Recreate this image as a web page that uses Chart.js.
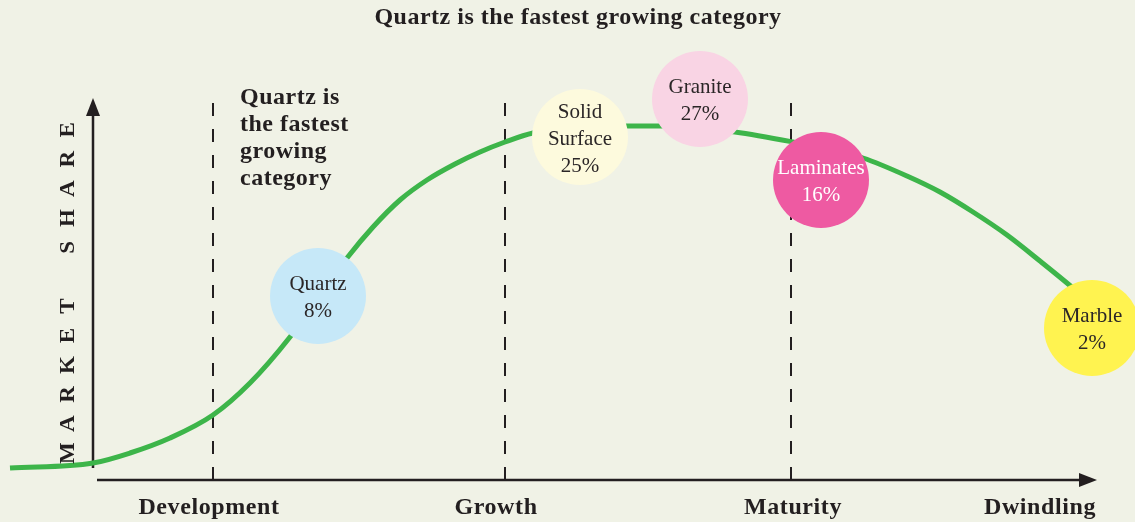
<!DOCTYPE html>
<html>
<head>
<meta charset="utf-8">
<script src="https://cdn.jsdelivr.net/npm/chart.js@4.4.1/dist/chart.umd.min.js"></script>
<style>
  html, body { margin: 0; padding: 0; background: #f0f2e6; }
  canvas { display: block; }
</style>
</head>
<body>
<canvas id="lifecycle" width="1135" height="522"></canvas>
<script>
// product life cycle - market share by stage

// curve (x = time, y = market share, arbitrary units)
const curveX = [-8.3, 0, 3.7, 7.7, 12.0, 15.7, 19.7, 22.5, 25.4, 28.0, 30.7, 33.4, 36.2, 38.7, 41.2, 44.0, 48.7, 53.4, 57.2, 60.7, 64.2, 70.0, 73.5, 77.0, 81.4, 84.7, 88.0, 91.4, 94.7, 98.0, 99.7];
const curveY = [1.2, 1.7, 2.7, 4.2, 6.5, 9.7, 14.3, 18.2, 22.2, 25.3, 28.0, 30.0, 31.6, 32.8, 33.8, 34.7, 35.2, 35.4, 35.4, 35.2, 34.8, 33.8, 33.1, 32.2, 30.4, 28.8, 26.8, 24.5, 21.9, 19.2, 17.7];

const categories = ['Quartz', 'Solid Surface', 'Granite', 'Laminates', 'Marble'];
const shares = [8, 25, 27, 16, 2];
const bubbleX = [22.5, 48.7, 60.7, 72.8, 99.9];
const bubbleY = [18.4, 34.3, 38.1, 30.0, 15.2];
const bubbleColors = ['#c6e8f8', '#fdfadd', '#f9d4e4', '#ee5aa2', '#fff350'];
const bubbleTextColors = ['#2b2627', '#2b2627', '#2b2627', '#ffffff', '#2b2627'];

const stages = ['Development', 'Growth', 'Maturity', 'Dwindling'];
const stageLabelX = [11.6, 40.3, 70.0, 94.7];
const dividerX = [12.0, 41.2, 69.8];
const dividerTop = 37.7;

const titleText = 'Quartz is the fastest growing category';
const noteLines = ['Quartz is', 'the fastest', 'growing', 'category'];
const axisTitle = 'MARKET SHARE';

const ink = '#231f20';
const serif = '"Liberation Serif", "DejaVu Serif", serif';

const datasets = [];

datasets.push({
    type: 'bubble',
    label: 'categories',
    data: categories.map((c, i) => ({ x: bubbleX[i], y: bubbleY[i], r: 48 })),
    backgroundColor: bubbleColors,
    borderWidth: 0,
    order: 0,
    clip: false
});

datasets.push({
    type: 'line',
    label: 'curve',
    data: curveX.map((x, i) => ({ x: x, y: curveY[i] })),
    borderColor: '#3db54a',
    borderWidth: 5,
    pointRadius: 0,
    cubicInterpolationMode: 'monotone',
    order: 1,
    clip: false
});

dividerX.forEach(x => {
    datasets.push({
        type: 'line',
        data: [{ x: x, y: 0 }, { x: x, y: dividerTop }],
        borderColor: ink,
        borderWidth: 2,
        borderDash: [13, 13],
        pointRadius: 0,
        order: 2,
        clip: false
    });
});

// axis shafts
datasets.push({
    type: 'line',
    data: [{ x: 0, y: 1.2 }, { x: 0, y: 37 }],
    borderColor: ink, borderWidth: 2.5, pointRadius: 0, order: 2, clip: false
});
datasets.push({
    type: 'line',
    data: [{ x: 0.4, y: 0 }, { x: 99, y: 0 }],
    borderColor: ink, borderWidth: 2.5, pointRadius: 0, order: 2, clip: false
});

const decorations = {
    id: 'decorations',
    beforeDraw(chart) {
        const ctx = chart.ctx;
        ctx.save();
        ctx.fillStyle = '#f0f2e6';
        ctx.fillRect(0, 0, chart.width, chart.height);
        ctx.restore();
    },
    afterDatasetsDraw(chart) {
        const ctx = chart.ctx;
        const xs = chart.scales.x, ys = chart.scales.y;
        ctx.save();

        // arrow heads
        ctx.fillStyle = ink;
        let tx = xs.getPixelForValue(0), ty = ys.getPixelForValue(38.2);
        ctx.beginPath();
        ctx.moveTo(tx, ty);
        ctx.lineTo(tx - 7, ty + 18);
        ctx.lineTo(tx + 7, ty + 18);
        ctx.closePath();
        ctx.fill();
        tx = xs.getPixelForValue(100.4); ty = ys.getPixelForValue(0);
        ctx.beginPath();
        ctx.moveTo(tx, ty);
        ctx.lineTo(tx - 18, ty - 7);
        ctx.lineTo(tx - 18, ty + 7);
        ctx.closePath();
        ctx.fill();

        // bubble labels
        const meta = chart.getDatasetMeta(0);
        ctx.font = '21px ' + serif;
        ctx.textAlign = 'center';
        ctx.textBaseline = 'middle';
        meta.data.forEach((pt, i) => {
            const lines = categories[i].split(' ').concat([shares[i] + '%']);
            const lh = 27;
            const y0 = pt.y + 2 - (lines.length - 1) * lh / 2;
            ctx.fillStyle = bubbleTextColors[i];
            lines.forEach((l, j) => ctx.fillText(l, pt.x, y0 + j * lh));
        });

        // stage labels
        ctx.fillStyle = ink;
        ctx.font = 'bold 24px ' + serif;
        ctx.letterSpacing = '0.6px';
        stages.forEach((s, i) => {
            ctx.fillText(s, xs.getPixelForValue(stageLabelX[i]), ys.getPixelForValue(-2.8));
        });

        // title
        ctx.letterSpacing = '0.5px';
        ctx.fillText(titleText, xs.getPixelForValue(48.5), 18);

        // note
        ctx.textAlign = 'left';
        noteLines.forEach((l, j) => {
            ctx.fillText(l, xs.getPixelForValue(14.7), ys.getPixelForValue(38.2) + j * 27);
        });
        ctx.letterSpacing = '0px';

        // vertical axis title, spaced letters
        ctx.translate(xs.getPixelForValue(-2.45), ys.getPixelForValue(18.85));
        ctx.rotate(-Math.PI / 2);
        ctx.font = 'bold 20px ' + serif;
        ctx.textAlign = 'center';
        const step = 29.4;
        const n = axisTitle.length;
        for (let i = 0; i < n; i++) {
            ctx.save();
            ctx.translate((i - (n - 1) / 2) * step, 0);
            ctx.scale(1.15, 1);
            ctx.fillText(axisTitle[i], 0, 0);
            ctx.restore();
        }
        ctx.restore();
    }
};

new Chart(document.getElementById('lifecycle'), {
    data: { datasets: datasets },
    options: {
        responsive: false,
        animation: false,
        layout: { padding: 0, autoPadding: false },
        scales: {
            x: { type: 'linear', min: -9.3, max: 104.2, display: false },
            y: { type: 'linear', min: -4.2, max: 48, display: false }
        },
        plugins: {
            legend: { display: false },
            tooltip: { enabled: false },
            title: { display: false }
        }
    },
    plugins: [decorations]
});
</script>
</body>
</html>
